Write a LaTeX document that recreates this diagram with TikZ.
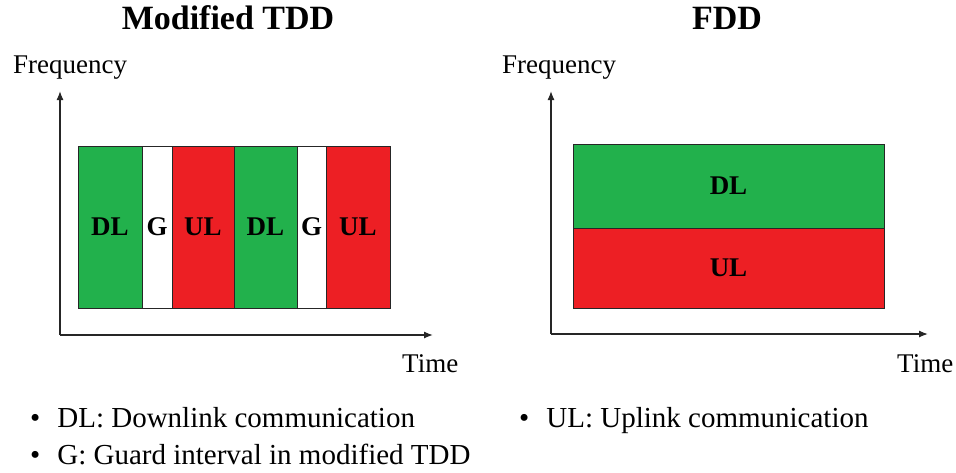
\documentclass[tikz,border=0pt]{standalone}
\usepackage{fontspec}
\setmainfont{Liberation Serif}
\usepackage{tikz}
\usetikzlibrary{arrows.meta}

\definecolor{dlgreen}{RGB}{34,177,76}
\definecolor{ulred}{RGB}{237,31,36}

\begin{document}
\begin{tikzpicture}[x=1pt, y=-1pt,
		every node/.style={inner sep=0pt, font=\fontsize{27}{32}\selectfont},
		every path/.style={>={Latex[length=9pt, width=7pt]}},
		slot/.style={rectangle, draw=black!85, line width=0.9pt, minimum height=162pt,
			font=\fontsize{27}{32}\selectfont\bfseries},
		band/.style={rectangle, draw=black!85, line width=0.9pt, minimum width=311pt,
			font=\fontsize{27}{32}\selectfont\bfseries},
		title/.style={anchor=base, font=\fontsize{34}{40}\selectfont\bfseries},
		note/.style={anchor=base west, font=\fontsize{29}{34}\selectfont},
		axis/.style={line width=1.3pt, black!85}]
	\useasboundingbox (0,0) rectangle (956,472);

	\node[title] (ttdd) at (228,29) {Modified TDD};
	\node[title] (tfdd) at (727,29) {FDD};

	\node[slot, fill=dlgreen, minimum width=64pt] (dl1) at (110,227) {DL};
	\node[slot, fill=white, minimum width=30pt] (g1) at (157,227) {G};
	\node[slot, fill=ulred, minimum width=62pt] (ul1) at (203,227) {UL};
	\node[slot, fill=dlgreen, minimum width=63pt] (dl2) at (265.5,227) {DL};
	\node[slot, fill=white, minimum width=29pt] (g2) at (311.5,227) {G};
	\node[slot, fill=ulred, minimum width=64pt] (ul2) at (358,227) {UL};

	\node[band, fill=dlgreen, minimum height=84pt] (dl) at (728.5,186) {DL};
	\node[band, fill=ulred, minimum height=80pt] (ul) at (728.5,268) {UL};

	\coordinate (o1) at (60,335);
	\coordinate (f1) at (60,91);
	\coordinate (t1) at (433,335);
	\coordinate (o2) at (551,334);
	\coordinate (f2) at (551,91);
	\coordinate (t2) at (928,334);

	\path [axis] (o1) edge [->] (f1);
	\path [axis] (o1) edge [->] (t1);
	\path [axis] (o2) edge [->] (f2);
	\path [axis] (o2) edge [->] (t2);

	\node[anchor=base west] (freq1) at (13,73) {Frequency};
	\node[anchor=base west] (time1) at (402,372) {Time};
	\node[anchor=base west] (freq2) at (502,73) {Frequency};
	\node[anchor=base west] (time2) at (897,372) {Time};

	\node[note] (dlnote) at (30,427) {\textbullet\hspace{17pt}DL: Downlink communication};
	\node[note] (gnote) at (30,464) {\textbullet\hspace{17pt}G: Guard interval in modified TDD};
	\node[note] (ulnote) at (519,427) {\textbullet\hspace{17pt}UL: Uplink communication};
\end{tikzpicture}
\end{document}
